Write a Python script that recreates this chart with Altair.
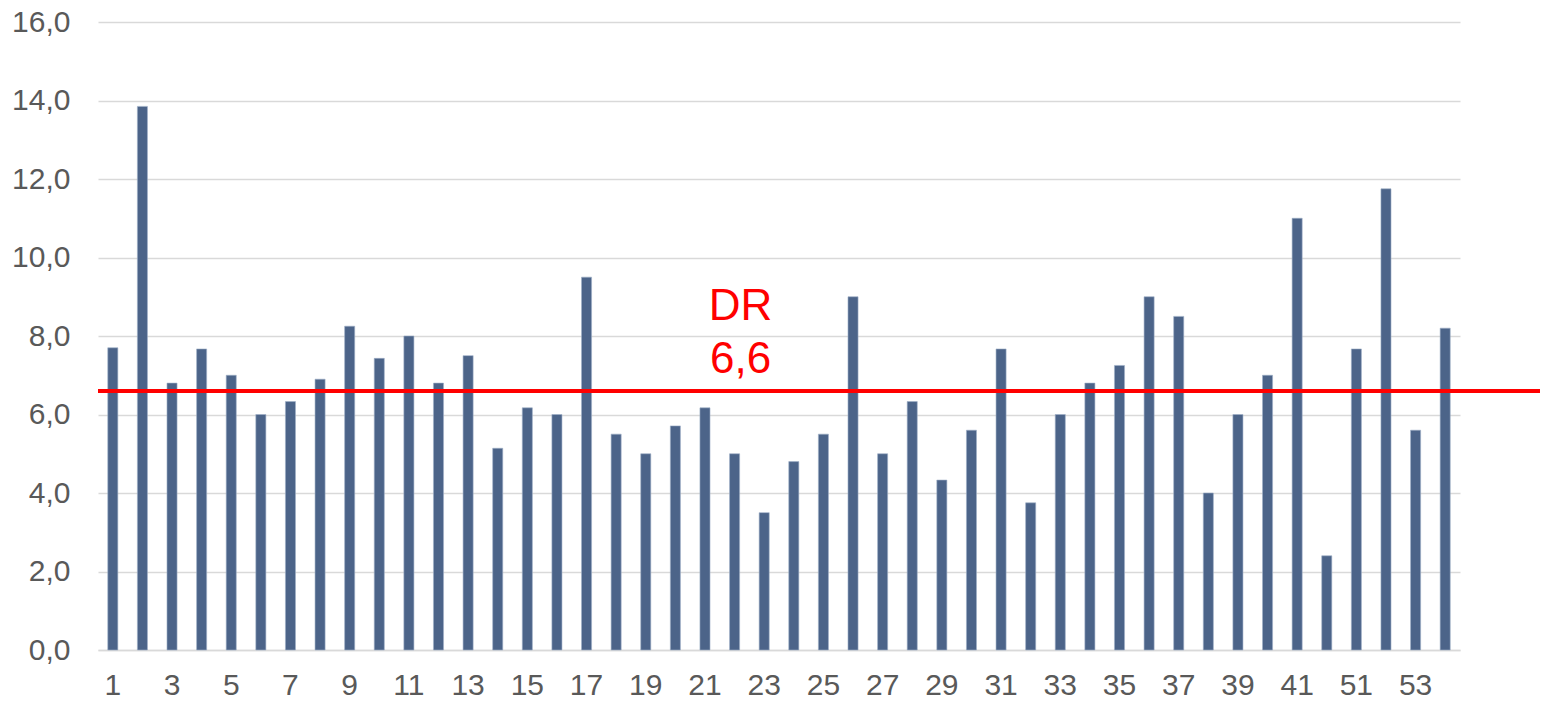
import altair as alt
import pandas as pd

categories = [str(i) for i in range(1, 43)] + ["51", "52", "53", "54"]
values = [7.7, 13.85, 6.8, 7.67, 7.0, 6.0, 6.33, 6.9, 8.25, 7.43,
          8.0, 6.8, 7.5, 5.14, 6.17, 6.0, 9.5, 5.5, 5.0, 5.71,
          6.17, 5.0, 3.5, 4.8, 5.5, 9.0, 5.0, 6.33, 4.33, 5.6,
          7.67, 3.75, 6.0, 6.8, 7.25, 9.0, 8.5, 4.0, 6.0, 7.0,
          11.0, 2.4, 7.67, 11.75, 5.6, 8.2]
dr_value = 6.6
dr_lines = ["DR", "6,6"]
y_ticks = [0, 2, 4, 6, 8, 10, 12, 14, 16]

df = pd.DataFrame({"cat": categories, "val": values})

FONT = "Liberation Sans"
LBL = "#595959"

x_enc = alt.X("cat:N", sort=categories,
              scale=alt.Scale(paddingInner=0.66, paddingOuter=0.33),
              axis=alt.Axis(title=None, values=categories[::2], labelAngle=0,
                            labelFontSize=30, labelColor=LBL, labelFont=FONT,
                            ticks=False, domain=True, domainColor="#D9D9D9",
                            domainWidth=1.5, labelPadding=20, grid=False))
y_enc = alt.Y("val:Q", scale=alt.Scale(domain=[0, 16], nice=False),
              axis=alt.Axis(title=None, values=y_ticks, grid=True,
                            gridColor="#D9D9D9", gridWidth=1.5,
                            domain=False, ticks=False,
                            labelExpr="replace(format(datum.value, '.1f'), '.', ',')",
                            labelFontSize=30, labelColor=LBL, labelFont=FONT,
                            labelPadding=28))

bars = alt.Chart(df).mark_bar(color="#4C6489", stroke="#9FB0C8",
                              strokeWidth=0.6).encode(x=x_enc, y=y_enc)

line = alt.Chart(pd.DataFrame({"v": [dr_value]})).mark_rule(
    color="#FF0000", strokeWidth=4).encode(
    y=alt.Y("v:Q"), x=alt.value(0), x2=alt.value(1450))

txt_df = pd.DataFrame({"cat": ["22"], "v": [dr_value]})
t1 = alt.Chart(txt_df).mark_text(text=dr_lines[0], color="#FF0000", fontSize=44,
                                 font=FONT, baseline="alphabetic", dy=-71, dx=6).encode(
    x=alt.X("cat:N", sort=categories), y="v:Q")
t2 = alt.Chart(txt_df).mark_text(text=dr_lines[1], color="#FF0000", fontSize=44,
                                 font=FONT, baseline="alphabetic", dy=-18, dx=6).encode(
    x=alt.X("cat:N", sort=categories), y="v:Q")

chart = alt.layer(bars, line, t1, t2).properties(
    width=1362, height=628,
    background="white",
    autosize=alt.AutoSizeParams(type="none"),
    padding={"left": 90, "top": 14, "right": 80, "bottom": 51},
).configure_view(stroke=None, strokeWidth=0)

chart.save("out.html", embed_options={"renderer": "svg", "actions": False})
